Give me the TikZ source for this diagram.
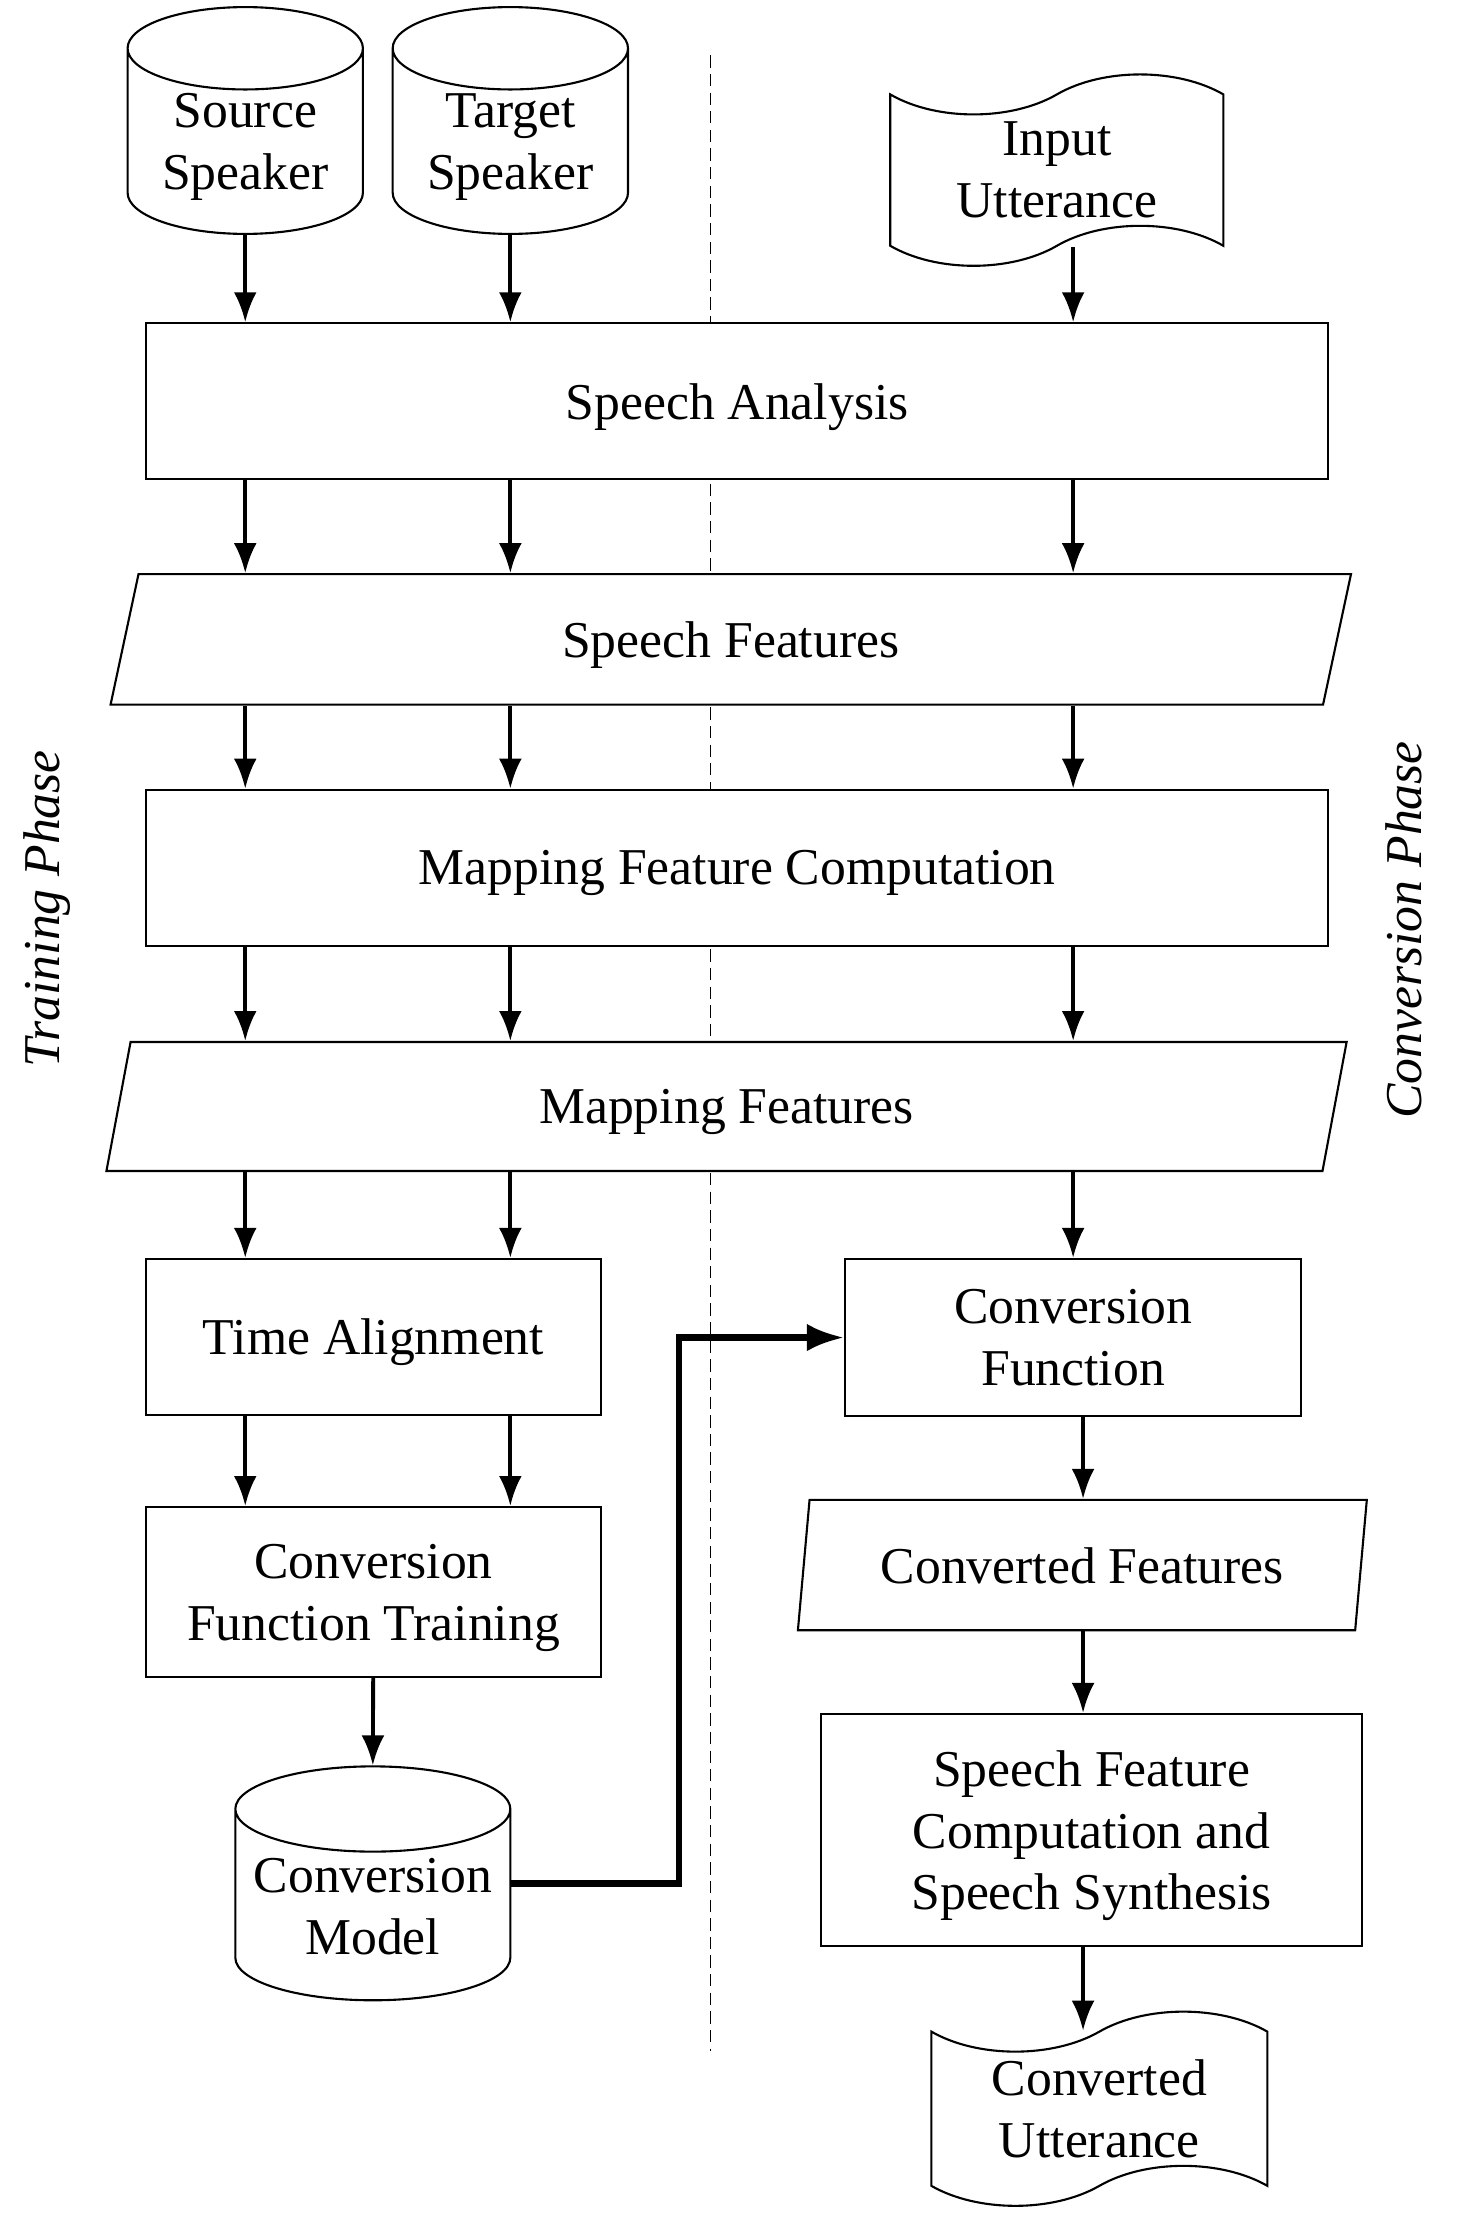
\documentclass[tikz,border=0pt]{standalone}
\usepackage{fontspec}
\setmainfont{Liberation Serif}
\usepackage{tikz}
\usetikzlibrary{shapes.geometric}
\usetikzlibrary{shapes.symbols}
\usetikzlibrary{arrows.meta}

\begin{document}
\begin{tikzpicture}[
        x=0.014175cm, y=-0.014175cm,
        txt/.style={font=\fontsize{14.7}{17.6}\selectfont, align=center},
        proc node/.style={txt, text depth=0pt, draw, fill=white, line width=0.6pt, inner sep=0pt},
        data node/.style={txt, text depth=0pt, draw, fill=white, line width=0.6pt, inner sep=0pt,
            trapezium, trapezium stretches=true},
        db node/.style={draw, fill=white, line width=0.6pt, inner sep=0pt,
            cylinder, shape border rotate=90, aspect=0.35, anchor=shape center},
        db text/.style={txt, text depth=0pt, inner sep=0pt},
        doc node/.style={txt, draw, fill=white, line width=0.6pt, inner sep=0pt,
            tape, tape bend height=0.4cm},
        phase/.style={font=\fontsize{14.7}{17.6}\selectfont\itshape, rotate=90},
        arr/.style={line width=1.1pt, -{Latex[length=8.5pt, width=6.5pt]}},
        thick arr/.style={line width=1.8pt, -{Latex[length=10.5pt, width=7.8pt]}},
        ]
    
    \def\pu{0.014175cm}
    
    \useasboundingbox (0,0) rectangle (1037,1566);
    
    \coordinate (c3) at (757,0);
    \coordinate (c4) at (764,0);
    \coordinate (bend) at (479,0);
    
    \draw[line width=0.4pt, dash pattern=on 3.5pt off 1.8pt] (501,39) -- (501,1447);
    
    % training side
    \node[db node, text width=166*\pu, minimum width=166*\pu, minimum height=160*\pu] (src) at (173,85) {};
    \node[db text] (src text) at (173,100) {Source\\Speaker};
    \node[db node, text width=166*\pu, minimum width=166*\pu, minimum height=160*\pu] (tgt) at (360,85) {};
    \node[db text] (tgt text) at (360,100) {Target\\Speaker};
    \node[doc node, minimum width=235*\pu, minimum height=135*\pu] (inp) at (745.5,120) {Input\\Utterance};
    
    \node[proc node, minimum width=834*\pu, minimum height=110*\pu] (sa) at (520,283) {Speech Analysis};
    \node[data node, minimum width=881*\pu, minimum height=92*\pu,
        trapezium left angle=77.5, trapezium right angle=102.5] (sf) at (515.5,451) {Speech Features};
    \node[proc node, minimum width=834*\pu, minimum height=110*\pu] (mfc) at (520,612) {Mapping Feature Computation};
    \node[data node, minimum width=875*\pu, minimum height=91*\pu,
        trapezium left angle=77.5, trapezium right angle=102.5] (mf) at (512.5,780.5) {Mapping Features};
    
    \node[proc node, minimum width=321*\pu, minimum height=110*\pu] (ta) at (263.5,943) {Time Alignment};
    \node[proc node, minimum width=321*\pu, minimum height=120*\pu] (cft) at (263.5,1123) {Conversion\\Function Training};
    \node[db node, aspect=0.31, text width=194*\pu, minimum width=194*\pu, minimum height=165*\pu] (cm) at (263,1328.5) {};
    \node[db text] (cm text) at (263,1345) {Conversion\\Model};
    
    % conversion side
    \node[proc node, minimum width=322*\pu, minimum height=111*\pu] (cf) at (757,943.5) {Conversion\\Function};
    \node[data node, minimum width=402*\pu, minimum height=92*\pu,
        trapezium left angle=76.5, trapezium right angle=103.5] (cvf) at (763.5,1104) {Converted Features};
    \node[proc node, minimum width=382*\pu, minimum height=164*\pu] (sfc) at (770,1291) {Speech Feature\\Computation and\\Speech Synthesis};
    \node[doc node, minimum width=237*\pu, minimum height=137*\pu] (cu) at (775.5,1487.5) {Converted\\Utterance};
    
    \node[phase] (tp) at (33,641) {Training Phase};
    \node[phase] (cp) at (990,656) {Conversion Phase};
    
    \draw[arr] (src) -- (src |- sa.north);
    \draw[arr] (tgt) -- (tgt |- sa.north);
    \draw[arr] (c3 |- inp.south) -- (c3 |- sa.north);
    \draw[arr] (src |- sa.south) -- (src |- sf.north);
    \draw[arr] (tgt |- sa.south) -- (tgt |- sf.north);
    \draw[arr] (c3 |- sa.south) -- (c3 |- sf.north);
    \draw[arr] (src |- sf.south) -- (src |- mfc.north);
    \draw[arr] (tgt |- sf.south) -- (tgt |- mfc.north);
    \draw[arr] (c3 |- sf.south) -- (c3 |- mfc.north);
    \draw[arr] (src |- mfc.south) -- (src |- mf.north);
    \draw[arr] (tgt |- mfc.south) -- (tgt |- mf.north);
    \draw[arr] (c3 |- mfc.south) -- (c3 |- mf.north);
    \draw[arr] (src |- mf.south) -- (src |- ta.north);
    \draw[arr] (tgt |- mf.south) -- (tgt |- ta.north);
    \draw[arr] (c3 |- mf.south) -- (cf.north);
    \draw[arr] (src |- ta.south) -- (src |- cft.north);
    \draw[arr] (tgt |- ta.south) -- (tgt |- cft.north);
    \draw[arr] (cft) -- (cm.north);
    \draw[thick arr] (cm.east |- cm.shape center) -| (bend |- cf.west) -- (cf.west);
    \draw[arr] (c4 |- cf.south) -- (c4 |- cvf.north);
    \draw[arr] (c4 |- cvf.south) -- (c4 |- sfc.north);
    \draw[arr] (c4 |- sfc.south) -- (c4 |- cu.north);
\end{tikzpicture}
\end{document}
